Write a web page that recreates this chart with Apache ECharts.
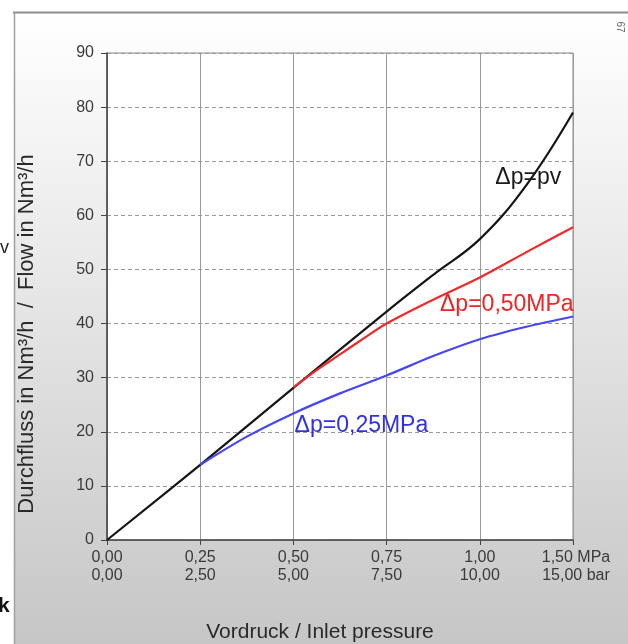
<!DOCTYPE html>
<html>
<head>
<meta charset="utf-8">
<script src="https://cdn.jsdelivr.net/npm/echarts@6/dist/echarts.min.js"></script>
<style>
html,body{margin:0;padding:0;background:#fff;}
#c{width:628px;height:644px;}
</style>
</head>
<body>
<div id="c"></div>
<script>
// x positions are tick indices (equally spaced ticks, last tick is 1,50 MPa)
var mpaLabels = ['0,00','0,25','0,50','0,75','1,00','1,50'];
var barLabels = ['0,00','2,50','5,00','7,50','10,00','15,00'];
var yTicks = [0,10,20,30,40,50,60,70,80,90];

var blackX = [0, 1, 2, 3, 3.5, 4, 4.5, 5];
var blackY = [0, 13.9, 28.1, 42.2, 49.0, 55.6, 65.6, 79.0];

var redX = [2, 2.25, 2.5, 2.75, 3, 3.5, 4, 4.5, 5];
var redY = [28.2, 31.4, 34.3, 37.2, 40.0, 44.4, 48.5, 53.2, 57.8];

var blueX = [1, 1.5, 2, 2.5, 3, 3.5, 4, 4.5, 5];
var blueY = [13.9, 19.1, 23.4, 27.1, 30.4, 34.0, 37.1, 39.4, 41.3];

var annoBlack = {text: 'Δp=pv', x: 4.52, y: 67.0};
var annoRed = {text: 'Δp=0,50MPa', x: 4.29, y: 43.5};
var annoBlue = {text: 'Δp=0,25MPa', x: 2.73, y: 21.1};

var yTitle = 'Durchfluss in Nm³/h  /  Flow in Nm³/h';
var xTitle = 'Vordruck / Inlet pressure';

function pairs(xs, ys){ return xs.map(function(x,i){return [x, ys[i]];}); }

var sans = '"Liberation Sans", Arial, sans-serif';

var chart = echarts.init(document.getElementById('c'));

function anno(a, color){
  return {
    symbol: 'circle', symbolSize: 1, silent: true,
    itemStyle: {color: 'rgba(0,0,0,0)'},
    data: [{coord: [a.x, a.y],
      label: {show: true, position: 'inside', formatter: a.text, color: color,
        fontFamily: sans, fontSize: 23}}]
  };
}

chart.setOption({
  animation: false,
  backgroundColor: '#ffffff',
  graphic: [
    {type: 'rect', z: -10, shape: {x: 14, y: 12, width: 614, height: 632},
     style: {fill: new echarts.graphic.LinearGradient(0, 0, 0, 1, [
       {offset: 0, color: '#ffffff'}, {offset: 0.45, color: '#e6e6e6'}, {offset: 1, color: '#c6c6c6'}])}},
    {type: 'line', z: -5, shape: {x1: 13, y1: 12.5, x2: 628, y2: 12.5}, style: {stroke: '#8c8c8c', lineWidth: 2}},
    {type: 'line', z: -5, shape: {x1: 14.5, y1: 12, x2: 14.5, y2: 644}, style: {stroke: '#a0a0a0', lineWidth: 1.5}},
    {type: 'text', x: 620, y: 27, rotation: -Math.PI/2, style: {text: '67', fill: '#666', font: '10px ' + sans, align: 'center', verticalAlign: 'middle'}},
    {type: 'text', x: 0, y: 248, style: {text: 'v', fill: '#222', font: '18px ' + sans, align: 'left', verticalAlign: 'middle'}},
    {type: 'text', x: -2, y: 606, style: {text: 'k', fill: '#111', font: 'bold 21px ' + sans, align: 'left', verticalAlign: 'middle'}},
    {type: 'text', x: 27, y: 334, rotation: Math.PI/2, style: {text: yTitle, fill: '#2a2a2a', font: '22px ' + sans, align: 'center', verticalAlign: 'middle'}},
    {type: 'text', x: 320, y: 632, style: {text: xTitle, fill: '#2a2a2a', font: '21px ' + sans, align: 'center', verticalAlign: 'middle'}}
  ],
  grid: {left: 107, right: 55, top: 53, bottom: 104, show: true, backgroundColor: '#ffffff', borderColor: '#8a8a8a', borderWidth: 1},
  xAxis: {
    type: 'value', min: 0, max: 5, interval: 1,
    axisLine: {show: true, onZero: false, lineStyle: {color: '#444', width: 1.5}},
    axisTick: {show: true, length: 5, lineStyle: {color: '#444'}},
    splitLine: {show: true, lineStyle: {color: '#999', width: 1}},
    axisLabel: {
      margin: 9, fontFamily: sans, fontSize: 16, color: '#3a3a3a', lineHeight: 18,
      formatter: function(v){
        var i = Math.round(v);
        if (i === 5) return '{l|' + mpaLabels[i] + ' MPa\n' + barLabels[i] + ' bar}';
        return mpaLabels[i] + '\n' + barLabels[i];
      },
      rich: {l: {fontFamily: sans, fontSize: 16, color: '#3a3a3a', lineHeight: 18, padding: [0, 0, 0, 6]}}
    }
  },
  yAxis: {
    type: 'value', min: 0, max: 90, interval: 10,
    axisLine: {show: true, lineStyle: {color: '#444', width: 1.5}},
    axisTick: {show: true, length: 6, lineStyle: {color: '#444'}},
    splitLine: {show: true, lineStyle: {color: '#999', width: 1, type: [4, 3]}},
    axisLabel: {margin: 13, fontFamily: sans, fontSize: 16, color: '#3a3a3a',
      formatter: function(v){ return yTicks.indexOf(v) >= 0 ? String(v) : ''; }}
  },
  series: [
    {type: 'line', name: 'blue', data: pairs(blueX, blueY), showSymbol: false, smooth: 0.3,
     lineStyle: {color: '#4646f2', width: 2.2}, z: 3, markPoint: anno(annoBlue, '#3030e6')},
    {type: 'line', name: 'red', data: pairs(redX, redY), showSymbol: false, smooth: 0.3,
     lineStyle: {color: '#f02828', width: 2.2}, z: 4, markPoint: anno(annoRed, '#ee2424')},
    {type: 'line', name: 'black', data: pairs(blackX, blackY), showSymbol: false, smooth: 0.4,
     lineStyle: {color: '#151515', width: 2.2}, z: 2, markPoint: anno(annoBlack, '#1a1a1a')}
  ]
});
</script>
</body>
</html>
